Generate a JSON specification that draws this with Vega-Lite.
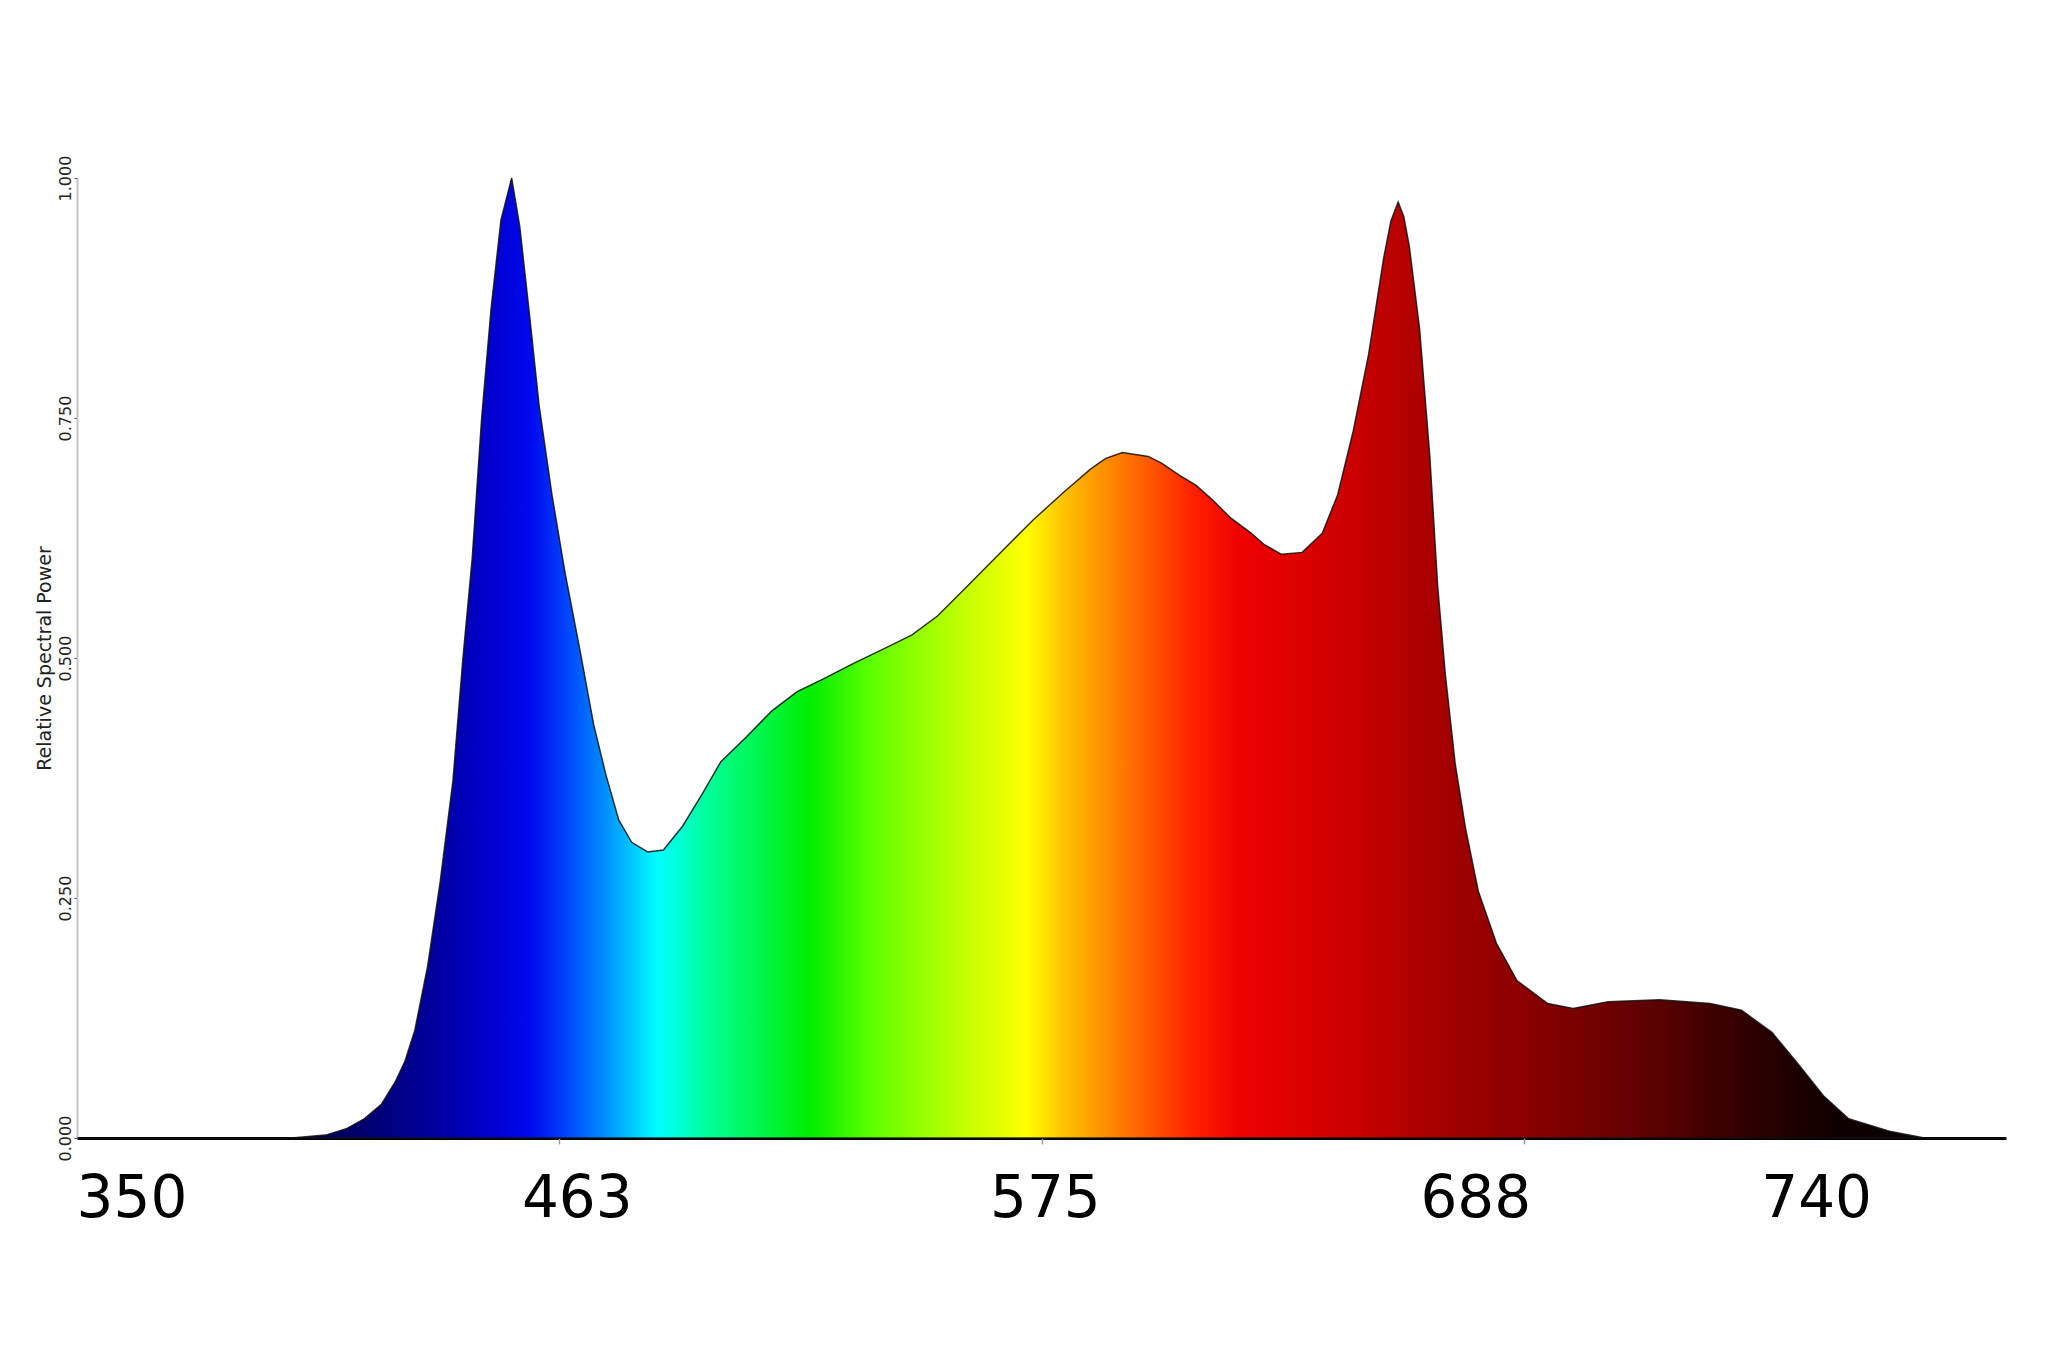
{
  "$schema": "https://vega.github.io/schema/vega-lite/v6.json",
  "width": 1929,
  "height": 960,
  "autosize": "none",
  "padding": {"left": 77, "top": 178, "right": 42, "bottom": 227},
  "background": "white",
  "config": {"view": {"stroke": null}},
  "data": {"values": [
    {"nm": 350, "v": 0}, {"nm": 400, "v": 0}, {"nm": 408, "v": 0.003}, {"nm": 413, "v": 0.01},
    {"nm": 417, "v": 0.02}, {"nm": 421, "v": 0.035}, {"nm": 424.3, "v": 0.059}, {"nm": 426.5, "v": 0.08},
    {"nm": 428.8, "v": 0.112}, {"nm": 431.8, "v": 0.179}, {"nm": 434.7, "v": 0.266}, {"nm": 437.7, "v": 0.372},
    {"nm": 440, "v": 0.498}, {"nm": 442.2, "v": 0.604}, {"nm": 444.4, "v": 0.75}, {"nm": 446.6, "v": 0.864},
    {"nm": 448.9, "v": 0.956}, {"nm": 451.4, "v": 1.0}, {"nm": 453.3, "v": 0.949}, {"nm": 455.6, "v": 0.856},
    {"nm": 457.8, "v": 0.763}, {"nm": 460.8, "v": 0.67}, {"nm": 463.8, "v": 0.59}, {"nm": 467.5, "v": 0.504},
    {"nm": 470.5, "v": 0.431}, {"nm": 473.4, "v": 0.378}, {"nm": 476.4, "v": 0.331}, {"nm": 479.4, "v": 0.308},
    {"nm": 483.1, "v": 0.298}, {"nm": 486.8, "v": 0.3}, {"nm": 491.3, "v": 0.325}, {"nm": 495.8, "v": 0.358},
    {"nm": 500.2, "v": 0.392}, {"nm": 506.2, "v": 0.418}, {"nm": 512.1, "v": 0.445}, {"nm": 518, "v": 0.465},
    {"nm": 524, "v": 0.478}, {"nm": 531.4, "v": 0.495}, {"nm": 538.9, "v": 0.511}, {"nm": 544.8, "v": 0.524},
    {"nm": 550.8, "v": 0.544}, {"nm": 558.2, "v": 0.577}, {"nm": 565.7, "v": 0.611}, {"nm": 573.1, "v": 0.644},
    {"nm": 580.5, "v": 0.674}, {"nm": 586.5, "v": 0.697}, {"nm": 590, "v": 0.708}, {"nm": 593.9, "v": 0.714},
    {"nm": 599.9, "v": 0.71}, {"nm": 603, "v": 0.703}, {"nm": 607.3, "v": 0.69}, {"nm": 611, "v": 0.68},
    {"nm": 614.8, "v": 0.665}, {"nm": 619.1, "v": 0.646}, {"nm": 623.9, "v": 0.63}, {"nm": 627, "v": 0.618},
    {"nm": 631, "v": 0.608}, {"nm": 635.8, "v": 0.61}, {"nm": 640.5, "v": 0.63}, {"nm": 644.1, "v": 0.67},
    {"nm": 647.7, "v": 0.736}, {"nm": 651.3, "v": 0.816}, {"nm": 654.8, "v": 0.916}, {"nm": 656.5, "v": 0.955},
    {"nm": 658.2, "v": 0.975}, {"nm": 659.5, "v": 0.96}, {"nm": 660.8, "v": 0.929}, {"nm": 663.2, "v": 0.843},
    {"nm": 665.6, "v": 0.709}, {"nm": 667.4, "v": 0.576}, {"nm": 669.2, "v": 0.483}, {"nm": 671.5, "v": 0.39},
    {"nm": 673.9, "v": 0.323}, {"nm": 676.9, "v": 0.257}, {"nm": 681.1, "v": 0.203}, {"nm": 685.9, "v": 0.164},
    {"nm": 693.1, "v": 0.14}, {"nm": 699, "v": 0.135}, {"nm": 707.2, "v": 0.142}, {"nm": 719.2, "v": 0.144},
    {"nm": 731, "v": 0.14}, {"nm": 738.3, "v": 0.133}, {"nm": 745.4, "v": 0.11}, {"nm": 751.5, "v": 0.077},
    {"nm": 757.4, "v": 0.044}, {"nm": 763.3, "v": 0.02}, {"nm": 772.8, "v": 0.007}, {"nm": 781, "v": 0},
    {"nm": 800, "v": 0}
  ]},
  "layer": [
    {
      "mark": {
        "type": "area",
        "stroke": "#111111",
        "strokeWidth": 1.5,
        "strokeOpacity": 0.85,
        "color": {
          "gradient": "linear",
          "x1": 0, "x2": 1, "y1": 0, "y2": 0,
          "stops": [
            {"offset": 0.12, "color": "#000050"},
            {"offset": 0.15, "color": "#000070"},
            {"offset": 0.182, "color": "#00009a"},
            {"offset": 0.215, "color": "#0000d0"},
            {"offset": 0.235, "color": "#0008ee"},
            {"offset": 0.255, "color": "#0048ff"},
            {"offset": 0.274, "color": "#0090ff"},
            {"offset": 0.301, "color": "#00ffff"},
            {"offset": 0.327, "color": "#00ff9a"},
            {"offset": 0.38, "color": "#00ee00"},
            {"offset": 0.413, "color": "#60ff00"},
            {"offset": 0.446, "color": "#a8ff00"},
            {"offset": 0.492, "color": "#ffff00"},
            {"offset": 0.512, "color": "#ffc000"},
            {"offset": 0.539, "color": "#ff8000"},
            {"offset": 0.579, "color": "#ff2000"},
            {"offset": 0.603, "color": "#ee0000"},
            {"offset": 0.635, "color": "#dd0000"},
            {"offset": 0.675, "color": "#c00000"},
            {"offset": 0.714, "color": "#a00000"},
            {"offset": 0.767, "color": "#800000"},
            {"offset": 0.82, "color": "#5a0000"},
            {"offset": 0.847, "color": "#400000"},
            {"offset": 0.886, "color": "#200000"},
            {"offset": 0.913, "color": "#100000"},
            {"offset": 1, "color": "#000000"}
          ]
        }
      },
      "encoding": {
        "x": {
          "field": "nm", "type": "quantitative",
          "scale": {"domain": [350, 800], "nice": false, "zero": false},
          "axis": {
            "orient": "bottom",
            "title": null,
            "grid": false,
            "values": [362.7, 466.6, 575.8, 676.2, 755.7],
            "labelExpr": "datum.value < 400 ? '350' : datum.value < 500 ? '463' : datum.value < 600 ? '575' : datum.value < 700 ? '688' : '740'",
            "ticks": false,
            "domainColor": "#000000",
            "domainWidth": 3,
            "labelFont": "DejaVu Sans",
            "labelFontSize": 58,
            "labelColor": "#000000",
            "labelPadding": 32,
            "labelFlush": false,
            "labelOverlap": false,
            "labelBound": false
          }
        },
        "y": {
          "field": "v", "type": "quantitative",
          "scale": {"domain": [0, 1], "nice": false, "zero": true},
          "axis": {
            "title": "Relative Spectral Power",
            "titleFont": "DejaVu Sans",
            "titleFontSize": 19,
            "titleFontWeight": "normal",
            "titleColor": "#222222",
            "titlePadding": 3,
            "grid": false,
            "values": [0, 0.25, 0.5, 0.75, 1],
            "format": ".3f",
            "labelAngle": -90,
            "labelFont": "DejaVu Sans",
            "labelFontSize": 16,
            "labelColor": "#222222",
            "labelPadding": 1,
            "tickSize": 3,
            "tickColor": "#444444",
            "domainColor": "#c4c4c4",
            "domainWidth": 2
          }
        }
      }
    },
    {
      "mark": {"type": "point", "opacity": 0},
      "encoding": {
        "x": {
          "field": "nm", "type": "quantitative",
          "scale": {"domain": [350, 800], "nice": false, "zero": false},
          "axis": {
            "orient": "bottom",
            "title": null,
            "grid": false,
            "values": [462.5, 575, 687.5],
            "labels": false,
            "domain": false,
            "ticks": true,
            "tickSize": 6,
            "tickColor": "#999999",
            "tickWidth": 1.5
          }
        }
      }
    }
  ],
  "resolve": {"axis": {"x": "independent"}}
}
